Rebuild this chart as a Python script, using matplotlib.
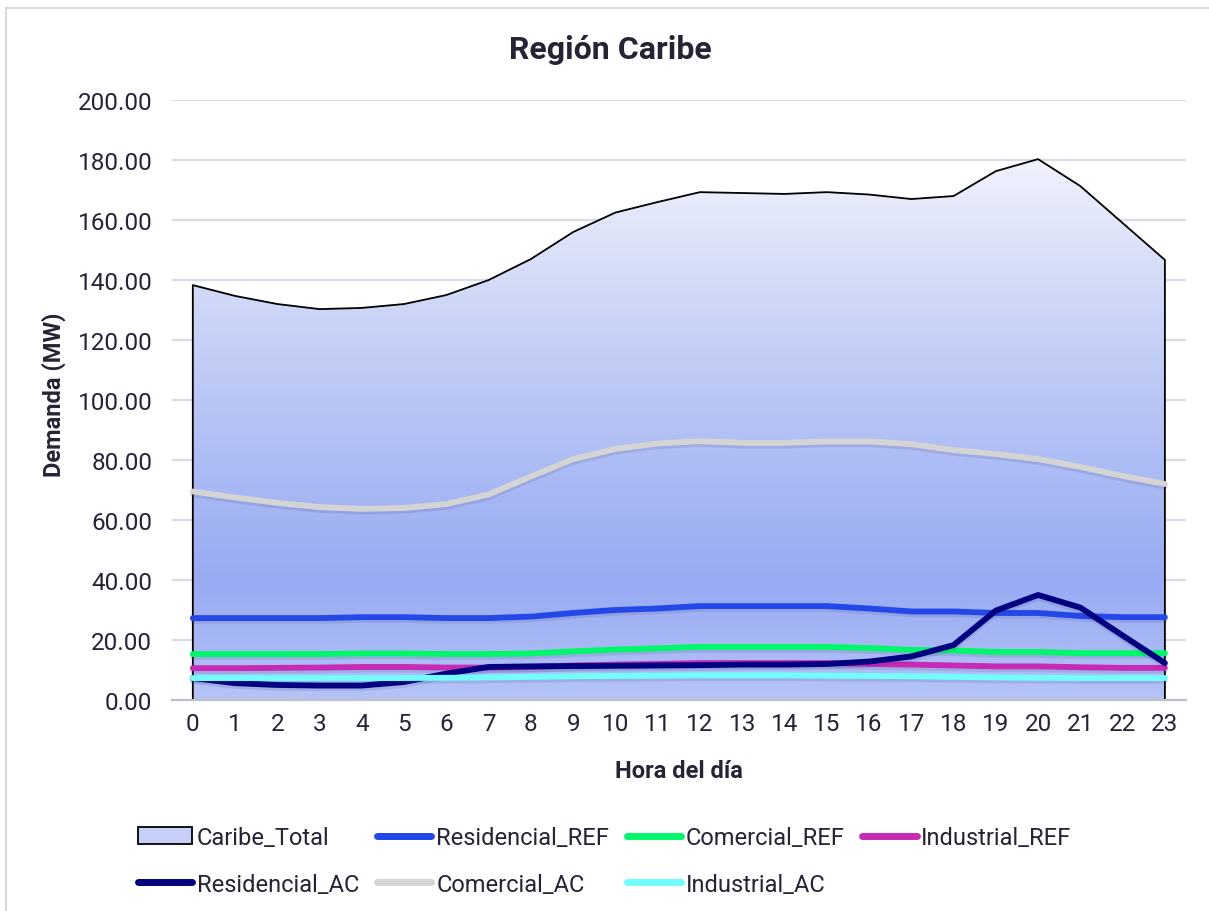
import matplotlib.pyplot as plt
import matplotlib.patheffects as pe
from matplotlib.colors import LinearSegmentedColormap
from matplotlib.patches import Polygon, Patch
from matplotlib.lines import Line2D
import numpy as np

plt.rcParams['font.family'] = ['Roboto', 'DejaVu Sans']

hours = list(range(24))

caribe_total = [138.3, 134.7, 132.0, 130.3, 130.7, 132.0, 135.0, 140.0, 147.0, 156.0, 162.5, 166.0,
                169.3, 169.0, 168.7, 169.3, 168.5, 167.0, 168.0, 176.3, 180.3, 171.3, 159.0, 146.7]
residencial_ref = [27.3, 27.3, 27.3, 27.3, 27.6, 27.6, 27.3, 27.3, 27.8, 29.0, 30.0, 30.5,
                   31.3, 31.3, 31.3, 31.3, 30.5, 29.5, 29.5, 29.0, 29.0, 28.0, 27.6, 27.6]
comercial_ref = [15.3, 15.3, 15.3, 15.3, 15.5, 15.5, 15.3, 15.3, 15.5, 16.2, 16.8, 17.2,
                 17.7, 17.7, 17.7, 17.7, 17.3, 16.7, 16.5, 16.0, 16.0, 15.6, 15.6, 15.6]
industrial_ref = [10.6, 10.6, 10.7, 10.8, 11.0, 11.0, 10.8, 10.8, 11.0, 11.5, 11.8, 12.0,
                  12.3, 12.3, 12.3, 12.3, 12.0, 11.8, 11.5, 11.2, 11.2, 10.9, 10.7, 10.7]
residencial_ac = [7.3, 5.6, 5.0, 4.8, 4.8, 6.0, 8.8, 11.0, 11.2, 11.3, 11.4, 11.5,
                  11.6, 11.8, 11.8, 12.0, 12.8, 14.5, 18.3, 29.8, 35.0, 30.8, 21.5, 12.3]
comercial_ac = [69.5, 67.5, 65.7, 64.3, 63.7, 64.0, 65.3, 68.5, 74.5, 80.3, 83.7, 85.5,
                86.3, 85.7, 85.7, 86.2, 86.2, 85.3, 83.3, 82.0, 80.3, 77.7, 74.7, 72.0]
industrial_ac = [7.3, 7.3, 7.3, 7.3, 7.3, 7.3, 7.4, 7.5, 7.7, 7.9, 8.0, 8.1,
                 8.2, 8.2, 8.2, 8.1, 8.0, 7.9, 7.7, 7.5, 7.4, 7.3, 7.3, 7.3]

series = [
    ('Residencial_REF', residencial_ref, '#2447e8'),
    ('Comercial_REF', comercial_ref, '#00f76a'),
    ('Industrial_REF', industrial_ref, '#c72ab4'),
    ('Residencial_AC', residencial_ac, '#000080'),
    ('Comercial_AC', comercial_ac, '#d4d4d4'),
    ('Industrial_AC', industrial_ac, '#72fdfd'),
]

text_color = '#262335'
grid_color = '#dadbe8'

fig = plt.figure(figsize=(12.09, 9.12), dpi=100)
ax = fig.add_axes([0.142, 0.2314, 0.839, 0.6578])

# gradient fill under total curve
cmap = LinearSegmentedColormap.from_list('caribe', [
    (0.0, '#b5c3f6'), (0.2, '#97aaf3'), (0.5, '#b9c6f5'),
    (0.7, '#d3dbf7'), (0.9, '#f0f2fc'), (1.0, '#f9fafe')])
grad = np.linspace(0, 1, 256).reshape(-1, 1)
im = ax.imshow(grad, extent=[-0.5, 23.5, 0, 200], origin='lower', aspect='auto',
               cmap=cmap, zorder=1)
verts = [(hours[0], 0)] + list(zip(hours, caribe_total)) + [(hours[-1], 0)]
poly = Polygon(verts, closed=True, facecolor='none', edgecolor='none')
ax.add_patch(poly)
im.set_clip_path(poly)
xs, ys = zip(*verts)
ax.plot(xs, ys, color='black', lw=1.3, zorder=2)

shadow = [pe.SimpleLineShadow(offset=(0, -2), shadow_color='#30307a', alpha=0.13),
          pe.Normal()]
for name, vals, col in series:
    ax.plot(hours, vals, color=col, lw=4.2, solid_capstyle='round',
            path_effects=shadow, zorder=3)

ax.set_xlim(-0.5, 23.5)
ax.set_ylim(0, 200)
ax.set_xticks(hours)
ax.set_yticks(range(0, 201, 20))
ax.set_yticklabels([f'{v:.2f}' for v in range(0, 201, 20)])
ax.tick_params(length=0, labelsize=17.5, colors=text_color, pad=9)
ax.tick_params(axis='y', pad=14)
ax.grid(axis='y', color=grid_color, lw=1.6, zorder=0)
ax.set_axisbelow(True)
for s in ['top', 'right', 'left']:
    ax.spines[s].set_visible(False)
ax.spines['bottom'].set_color('#bfbfca')
ax.spines['bottom'].set_linewidth(1.6)
ax.spines['bottom'].set_zorder(4)

fig.text(0.505, 1 - 50 / 912, 'Región Caribe', fontsize=23, fontweight='bold',
         color=text_color, ha='center', va='center')
ax.set_xlabel('Hora del día', fontsize=17, fontweight='bold', color=text_color)
ax.set_ylabel('Demanda (MW)', fontsize=17, fontweight='bold', color=text_color)
ax.xaxis.set_label_coords(0.5, -0.098)
ax.yaxis.set_label_coords(-0.104, 0.51)

# legend, reordered so columns fill like the original rows
handles = {'Caribe_Total': Patch(facecolor='#c5cff7', edgecolor='black', lw=1.3)}
for name, vals, col in series:
    handles[name] = Line2D([], [], color=col, lw=5, solid_capstyle='round')
order = ['Caribe_Total', 'Residencial_AC', 'Residencial_REF', 'Comercial_AC',
         'Comercial_REF', 'Industrial_AC', 'Industrial_REF']
fig.legend([handles[k] for k in order], order, loc='upper left',
           bbox_to_anchor=(138 / 1209, 1 - 827 / 912), ncol=4, frameon=False,
           fontsize=17, labelcolor=text_color, handlelength=2.3, handletextpad=0.2,
           columnspacing=0.75, labelspacing=1.0, borderpad=0, borderaxespad=0)

# outer chart frame
fig.add_artist(Line2D([6 / 1209, 1], [1 - 9 / 912, 1 - 9 / 912], color='#d9d9e6', lw=1.5))
fig.add_artist(Line2D([6 / 1209, 6 / 1209], [0, 1 - 9 / 912], color='#d9d9e6', lw=1.5))

fig.savefig('out.png', dpi=100)
